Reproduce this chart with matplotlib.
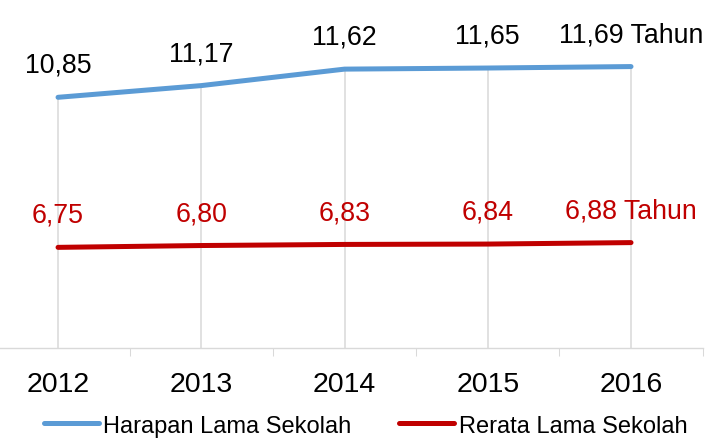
import matplotlib
matplotlib.use('Agg')
import matplotlib.pyplot as plt
from matplotlib.ticker import FixedLocator, NullFormatter, FixedFormatter

plt.rcParams['font.family'] = ['Liberation Sans', 'DejaVu Sans']

years = ['2012', '2013', '2014', '2015', '2016']
harapan = [10.85, 11.17, 11.62, 11.65, 11.69]
rerata = [6.75, 6.80, 6.83, 6.84, 6.88]
harapan_labels = ['10,85', '11,17', '11,62', '11,65', '11,69 Tahun']
rerata_labels = ['6,75', '6,80', '6,83', '6,84', '6,88 Tahun']

blue = '#5B9BD5'
red = '#C00000'
grey = '#d9d9d9'

fig = plt.figure(figsize=(7.15, 4.39), dpi=100)
ax = fig.add_axes([-0.019, 0.205, 1.0017, 0.792])

x = list(range(len(years)))
ymin, ymax = 4, 13.5

# drop lines from the top series down to the axis
ax.vlines(x, ymin, harapan, color=grey, lw=1.1, zorder=1)

ax.plot(x, harapan, color=blue, lw=3.6, solid_capstyle='round', zorder=3,
        label='Harapan Lama Sekolah')
ax.plot(x, rerata, color=red, lw=3.6, solid_capstyle='round', zorder=3,
        label='Rerata Lama Sekolah')

for i in x:
    ax.annotate(harapan_labels[i], (i, harapan[i]), xytext=(0, 18.3),
                textcoords='offset points', ha='center', va='baseline',
                fontsize=19.3, color='black')
    ax.annotate(rerata_labels[i], (i, rerata[i]), xytext=(0, 18.3),
                textcoords='offset points', ha='center', va='baseline',
                fontsize=19.3, color=red)

ax.set_xlim(-0.5, len(years) - 0.5)
ax.set_ylim(ymin, ymax)

for s in ['top', 'left', 'right']:
    ax.spines[s].set_visible(False)
ax.spines['bottom'].set_color(grey)
ax.spines['bottom'].set_linewidth(1.0)

ax.xaxis.set_major_locator(FixedLocator([i - 0.5 for i in range(len(years) + 1)]))
ax.xaxis.set_major_formatter(NullFormatter())
ax.xaxis.set_minor_locator(FixedLocator(x))
ax.xaxis.set_minor_formatter(FixedFormatter(years))
ax.tick_params(axis='x', which='major', length=5.8, width=0.75, color=grey, direction='out')
ax.tick_params(axis='x', which='minor', length=0, pad=16.5, labelsize=20.5)
ax.set_yticks([])

fig.legend(loc='lower center', bbox_to_anchor=(0.511, 0.003), ncol=2,
           frameon=False, fontsize=17, handlelength=2.33, handletextpad=0.2,
           columnspacing=2.0, borderpad=0, borderaxespad=0)

fig.savefig('out.png', dpi=100)
